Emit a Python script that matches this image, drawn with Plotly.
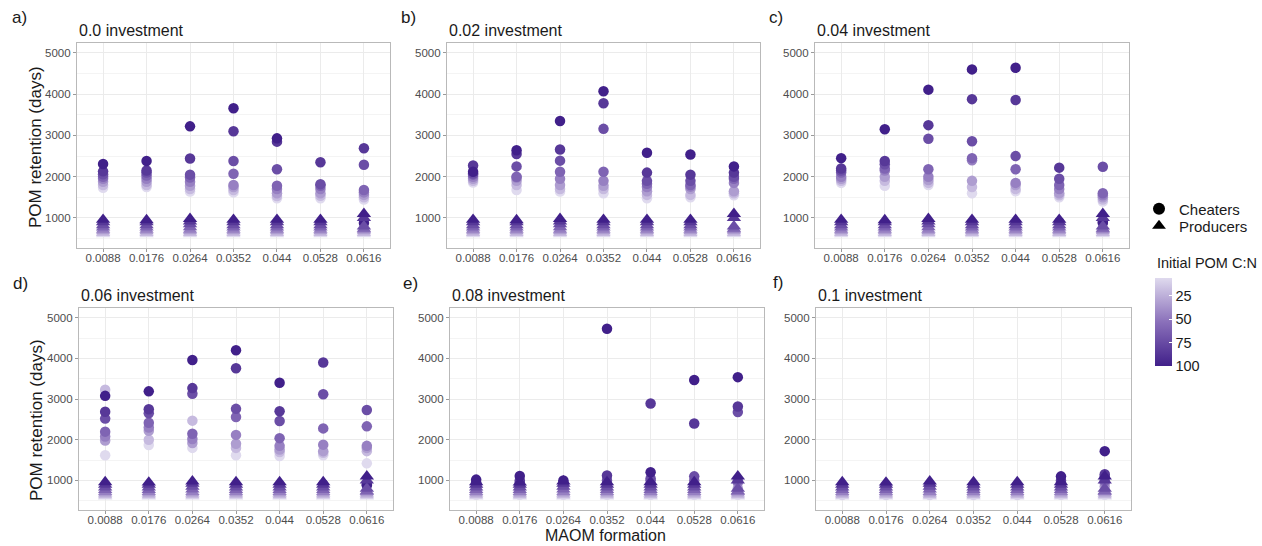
import plotly.graph_objects as go

# MAOM formation rates (x categories) and investment levels (one panel each)
MAOM = ["0.0088", "0.0176", "0.0264", "0.0352", "0.044", "0.0528", "0.0616"]
INVESTMENT = ["0.0", "0.02", "0.04", "0.06", "0.08", "0.1"]
PANEL_TAGS = ["a)", "b)", "c)", "d)", "e)", "f)"]

# initial POM C:N of each simulated community (same order in every column list)
CN_LEVELS = [6, 20, 33, 46, 60, 73, 86, 100]

# POM retention (days) of cheater communities: one list per MAOM rate
CHEATERS_00 = [
    [1730, 1800, 1880, 1950, 2000, 2060, 2130, 2310],
    [1750, 1800, 1880, 1950, 2030, 2100, 2150, 2380],
    [1640, 1700, 1780, 1880, 1980, 2050, 2440, 3220],
    [1620, 1680, 1750, 1800, 2070, 2380, 3100, 3660],
    [1480, 1530, 1600, 1700, 1780, 2180, 2850, 2930],
    [1480, 1540, 1600, 1700, 1780, 1820, 2350, 880],
    [1450, 1500, 1560, 1620, 1680, 2290, 2690, 880],
]
CHEATERS_02 = [
    [1860, 1900, 1950, 2000, 2050, 2080, 2270, 2120],
    [1680, 1800, 1900, 1980, 2000, 2250, 2550, 2640],
    [1640, 1700, 1800, 1950, 2120, 2390, 2660, 3350],
    [1600, 1700, 1780, 1900, 2120, 3160, 3780, 4070],
    [1480, 1560, 1650, 1750, 1830, 1900, 2100, 2580],
    [1500, 1560, 1700, 1760, 1800, 1900, 2050, 2540],
    [1550, 1600, 1650, 1850, 1950, 2000, 2100, 2250],
]
CHEATERS_04 = [
    [1850, 1900, 1950, 2000, 2100, 2150, 2200, 2450],
    [1780, 1900, 2000, 2150, 2200, 2300, 2380, 3150],
    [1800, 1850, 1920, 2000, 2180, 2920, 3250, 4110],
    [1600, 1750, 1900, 2400, 2450, 2860, 3880, 4600],
    [1650, 1700, 1800, 1850, 2180, 2500, 3860, 4640],
    [1500, 1550, 1600, 1700, 1800, 1950, 2220, 900],
    [1400, 1450, 1500, 1550, 1600, 2240, 880, 900],
]
CHEATERS_06 = [
    [1620, 3230, 1980, 2080, 2200, 2520, 2690, 3080],
    [1870, 2000, 2220, 2300, 2420, 2650, 2750, 3190],
    [1800, 2470, 1920, 2020, 2150, 3130, 3270, 3960],
    [1620, 1800, 1900, 2120, 2560, 2760, 3760, 4200],
    [1600, 1700, 1760, 1850, 2040, 2460, 2700, 3400],
    [1620, 1680, 1720, 1880, 2280, 3120, 3900, 900],
    [1420, 1720, 1800, 1850, 2330, 2730, 900, 880],
]
CHEATERS_08 = [
    [650, 700, 750, 800, 850, 900, 950, 1020],
    [650, 700, 750, 800, 880, 950, 1000, 1110],
    [650, 700, 750, 800, 850, 900, 950, 1000],
    [650, 700, 760, 820, 900, 1000, 1120, 4730],
    [650, 700, 800, 900, 1000, 1050, 2890, 1200],
    [650, 700, 750, 850, 1000, 1100, 2400, 3470],
    [650, 700, 800, 950, 1000, 2680, 2820, 3540],
]
CHEATERS_10 = [
    [640, 660, 690, 720, 750, 790, 830, 870],
    [640, 660, 690, 720, 750, 790, 830, 870],
    [640, 660, 690, 720, 750, 790, 830, 870],
    [640, 660, 690, 720, 750, 790, 830, 870],
    [640, 660, 690, 720, 750, 790, 830, 870],
    [650, 700, 750, 800, 850, 950, 1000, 1100],
    [650, 750, 850, 950, 1000, 1100, 1150, 1720],
]
CHEATERS = [CHEATERS_00, CHEATERS_02, CHEATERS_04,
            CHEATERS_06, CHEATERS_08, CHEATERS_10]

# POM retention (days) of producer communities, per MAOM rate
PRODUCERS = [
    [610, 640, 680, 720, 770, 830, 900, 960],
    [610, 640, 680, 720, 770, 830, 900, 950],
    [610, 640, 680, 720, 780, 850, 920, 980],
    [610, 640, 680, 720, 770, 830, 900, 960],
    [610, 640, 680, 720, 770, 830, 900, 960],
    [610, 640, 680, 720, 770, 830, 900, 960],
    [610, 640, 680, 720, 740, 800, 1000, 1100],
]

W, H = 1262, 546
FONT = "Liberation Sans, Arial, sans-serif"
TICK_GREY = "#4d4d4d"
BORDER = "#b9b9b9"
GRID = "#ebebeb"

# panel boxes in pixels: (left, right, top, bottom)
BOXES = [
    (77, 390, 43, 248), (447, 760, 43, 248), (815, 1129, 43, 248),
    (79, 393, 308, 510), (450, 764, 308, 510), (816, 1131, 308, 510),
]
TAG_POS = [(19, 17), (408, 17), (776, 17), (20, 283), (410, 283), (778, 282)]

# colour encodes C:N; the bar runs light (low C:N) at top to dark (100) at bottom
SCALE = [[0.0, "#41208a"], [0.5, "#8a70ba"], [1.0, "#dfdaee"]]

fig = go.Figure()
layout = {}
annotations = []

for i, (inv, cheat) in enumerate(zip(INVESTMENT, CHEATERS)):
    sfx = "" if i == 0 else str(i + 1)
    xa, ya = "x" + sfx, "y" + sfx
    l, r, t, b = BOXES[i]

    cx, cy, cc = [], [], []
    px, py, pc = [], [], []
    for m, vals in enumerate(cheat):
        for cn, v in zip(CN_LEVELS, vals):
            cx.append(MAOM[m]); cy.append(v); cc.append(-cn)
    for m, vals in enumerate(PRODUCERS):
        for cn, v in zip(CN_LEVELS, vals):
            px.append(MAOM[m]); py.append(v); pc.append(-cn)

    # order by C:N so the darkest points sit on top
    c_ord = sorted(range(len(cx)), key=lambda k: cc[k], reverse=True)
    p_ord = sorted(range(len(px)), key=lambda k: pc[k], reverse=True)

    fig.add_trace(go.Scatter(
        x=[cx[k] for k in c_ord], y=[cy[k] for k in c_ord], mode="markers",
        marker=dict(symbol="circle", size=10.5, color=[cc[k] for k in c_ord],
                    coloraxis="coloraxis", line=dict(width=0)),
        xaxis=xa, yaxis=ya, showlegend=False, name="Cheaters"))
    fig.add_trace(go.Scatter(
        x=[px[k] for k in p_ord], y=[py[k] for k in p_ord], mode="markers",
        marker=dict(symbol="triangle-up", size=12.5, color=[pc[k] for k in p_ord],
                    coloraxis="coloraxis", line=dict(width=0)),
        xaxis=xa, yaxis=ya, showlegend=False, name="Producers"))

    layout["xaxis" + sfx] = dict(
        domain=[l / W, r / W], anchor=ya, type="category",
        categoryorder="array", categoryarray=MAOM, range=[-0.6, 6.6],
        showgrid=True, gridcolor=GRID, gridwidth=1,
        showline=True, mirror=True, linecolor=BORDER, linewidth=1.2,
        ticks="outside", ticklen=3, tickcolor="#9a9a9a",
        ticklabelstandoff=-4,
        tickfont=dict(family=FONT, size=11.5, color=TICK_GREY),
        zeroline=False)
    layout["yaxis" + sfx] = dict(
        domain=[1 - b / H, 1 - t / H], anchor=xa, range=[273, 5240],
        tickvals=[1000, 2000, 3000, 4000, 5000],
        showgrid=True, gridcolor=GRID, gridwidth=1,
        minor=dict(tickvals=[500, 1500, 2500, 3500, 4500], showgrid=True,
                   gridcolor="#f4f4f4", gridwidth=0.6, ticks=""),
        showline=True, mirror=True, linecolor=BORDER, linewidth=1.2,
        ticks="outside", ticklen=3, tickcolor="#9a9a9a",
        tickfont=dict(family=FONT, size=11.5, color=TICK_GREY),
        zeroline=False)

    # panel title and tag
    annotations.append(dict(
        text=f"{inv} investment", x=l / W, y=1 - (t - 13) / H,
        xref="paper", yref="paper", xanchor="left", yanchor="middle",
        showarrow=False, font=dict(family=FONT, size=16, color="#1a1a1a")))
    tx, ty = TAG_POS[i]
    annotations.append(dict(
        text=PANEL_TAGS[i], x=tx / W, y=1 - ty / H,
        xref="paper", yref="paper", xanchor="center", yanchor="middle",
        showarrow=False, font=dict(family=FONT, size=17, color="#1a1a1a")))

# shared axis titles
for yc in (147, 420):
    annotations.append(dict(
        text="POM retention (days)", x=36 / W, y=1 - yc / H,
        xref="paper", yref="paper", xanchor="center", yanchor="middle",
        textangle=-90, showarrow=False,
        font=dict(family=FONT, size=17, color="#1a1a1a")))
annotations.append(dict(
    text="MAOM formation", x=605 / W, y=1 - 545 / H,
    xref="paper", yref="paper", xanchor="center", yanchor="bottom",
    showarrow=False, borderpad=0,
    font=dict(family=FONT, size=16, color="#1a1a1a")))
annotations.append(dict(
    text="Initial POM C:N", x=1155 / W, y=1 - 263 / H,
    xref="paper", yref="paper", xanchor="left", yanchor="middle",
    showarrow=False, font=dict(family=FONT, size=14.5, color="#1a1a1a")))

# shape key: one legend per entry so the rows sit close together
for name, sym, leg in (("Cheaters", "circle", "legend"),
                       ("Producers", "triangle-up", "legend2")):
    fig.add_trace(go.Scatter(
        x=[None], y=[None], mode="markers", name=name, legend=leg,
        marker=dict(symbol=sym, size=12, color="black"),
        xaxis="x", yaxis="y", showlegend=True))

LEG_COMMON = dict(xanchor="left", yanchor="middle", bgcolor="rgba(0,0,0,0)",
                  borderwidth=0, itemwidth=30,
                  font=dict(family=FONT, size=15, color="#1a1a1a"))

fig.update_layout(
    width=W, height=H,
    margin=dict(l=0, r=0, t=0, b=0),
    paper_bgcolor="white", plot_bgcolor="white",
    font=dict(family=FONT, color="#1a1a1a"),
    annotations=annotations,
    showlegend=True,
    legend=dict(x=1139 / W, y=1 - 209 / H, **LEG_COMMON),
    legend2=dict(x=1139 / W, y=1 - 226 / H, **LEG_COMMON),
    coloraxis=dict(
        colorscale=SCALE, cmin=-100, cmax=-6,
        colorbar=dict(
            x=1155 / W, xanchor="left", xpad=0,
            y=1 - 322 / H, yanchor="middle", ypad=0,
            len=88, lenmode="pixels", thickness=17, thicknessmode="pixels",
            outlinewidth=0,
            tickvals=[-25, -50, -75, -100], ticktext=["25", "50", "75", "100"],
            ticks="inside", ticklen=3, tickcolor="white",
            tickfont=dict(family=FONT, size=14.5, color="#1a1a1a"),
            title=dict(text=""))),
    **layout,
)

fig.write_html("out.html")
